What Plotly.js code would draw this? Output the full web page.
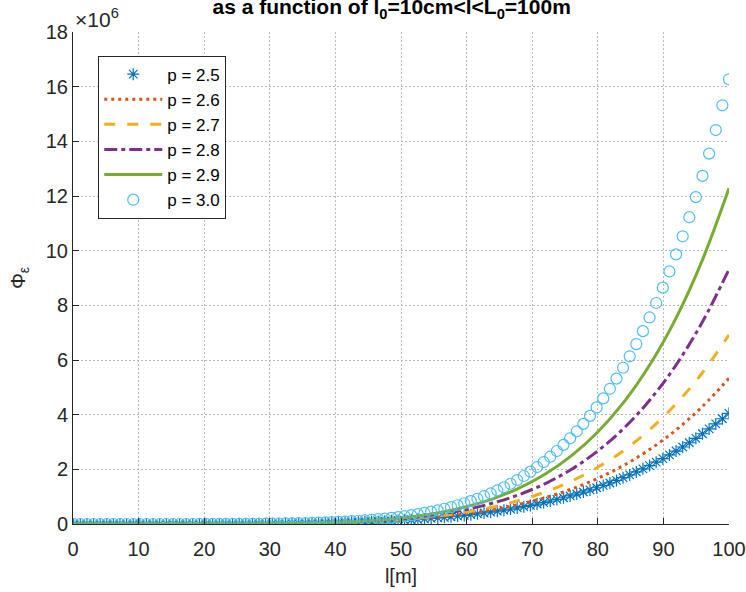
<!DOCTYPE html>
<html>
<head>
<meta charset="utf-8">
<script src="https://cdn.plot.ly/plotly-3.0.1.min.js"></script>
<style>html,body{margin:0;padding:0;background:#fff;}#chart{width:746px;height:592px;}</style>
</head>
<body>
<div id="chart"></div>
<script>
// x positions of sampled points (l in metres)
const xMarkers = [0.10,1.11,2.12,3.13,4.14,5.15,6.15,7.16,8.17,9.18,
 10.19,11.20,12.21,13.22,14.23,15.24,16.25,17.25,18.26,19.27,
 20.28,21.29,22.30,23.31,24.32,25.33,26.34,27.35,28.35,29.36,
 30.37,31.38,32.39,33.40,34.41,35.42,36.43,37.44,38.45,39.45,
 40.46,41.47,42.48,43.49,44.50,45.51,46.52,47.53,48.54,49.55,
 50.55,51.56,52.57,53.58,54.59,55.60,56.61,57.62,58.63,59.64,
 60.65,61.65,62.66,63.67,64.68,65.69,66.70,67.71,68.72,69.73,
 70.74,71.75,72.75,73.76,74.77,75.78,76.79,77.80,78.81,79.82,
 80.83,81.84,82.85,83.85,84.86,85.87,86.88,87.89,88.90,89.91,
 90.92,91.93,92.94,93.95,94.95,95.96,96.97,97.98,98.99,100.00];

// Phi_eps values in units of 10^6
const p25 = [0,0,0,0,0,0,0,0,0,0,
 0,0,0,0,0,0,0,0,0,0.0013,
 0.0017,0.0021,0.0026,0.0032,0.0040,0.0048,0.0058,0.0070,0.0083,0.0098,
 0.0116,0.0136,0.0159,0.0184,0.0213,0.0245,0.0281,0.0321,0.0365,0.0415,
 0.0469,0.0529,0.0595,0.0668,0.0747,0.0834,0.0929,0.1032,0.1144,0.1266,
 0.1397,0.1540,0.1694,0.1860,0.2038,0.2230,0.2437,0.2658,0.2895,0.3149,
 0.3421,0.3710,0.4019,0.4349,0.4699,0.5072,0.5468,0.5888,0.6334,0.6807,
 0.7307,0.7836,0.8396,0.8987,0.9611,1.0269,1.0962,1.1693,1.2462,1.3271,
 1.4121,1.5015,1.5953,1.6938,1.7970,1.9052,2.0186,2.1373,2.2615,2.3915,
 2.5273,2.6693,2.8175,2.9723,3.1338,3.3023,3.4779,3.6609,3.8515,4.05];

const p30 = [0,0,0,0,0,0,0,0,0,0,
 0,0,0,0,0,0,0,0,0,0.0010,
 0.0014,0.0018,0.0024,0.0031,0.0040,0.0050,0.0063,0.0078,0.0097,0.0119,
 0.0144,0.0175,0.0210,0.0251,0.0299,0.0354,0.0417,0.0490,0.0572,0.0666,
 0.0773,0.0893,0.1029,0.1181,0.1351,0.1541,0.1754,0.1990,0.2252,0.2542,
 0.2863,0.3217,0.3606,0.4034,0.4504,0.5018,0.5580,0.6194,0.6863,0.7591,
 0.8382,0.9241,1.0173,1.1181,1.2271,1.3448,1.4718,1.6086,1.7558,1.9141,
 2.0842,2.2666,2.4622,2.6716,2.8957,3.1352,3.3910,3.6640,3.9550,4.2651,
 4.5951,4.9462,5.3193,5.7156,6.1362,6.5823,7.0551,7.5559,8.0859,8.6465,
 9.2392,9.8654,10.5265,11.2242,11.9600,12.7355,13.5525,14.4127,15.3179,16.27];

const xLines = [0.1,10,20,25,30,34,38,40,44,48,52,56,60,64,68,72,76,80,84,88,92,96,100];
const p26 = [0,0,0.0012,0.0039,0.0102,0.0195,0.0348,0.0454,0.0746,0.1172,0.1779,0.2614,0.3743,0.5233,0.7169,0.9658,1.2792,1.6710,2.1523,2.7423,3.4544,4.3109,5.33];
const p27 = [0,0,0.0012,0.0039,0.0104,0.0204,0.0372,0.0491,0.0822,0.1314,0.2026,0.3023,0.4389,0.6216,0.8622,1.1736,1.5722,2.0739,2.6981,3.4704,4.4108,5.5519,6.92];
const p28 = [0,0,0.0011,0.0040,0.0110,0.0222,0.0413,0.0551,0.0939,0.1529,0.2394,0.3625,0.5338,0.7657,1.0746,1.4800,2.0038,2.6730,3.5099,4.5556,5.8427,7.4159,9.32];
const p29 = [0,0,0.0011,0.0040,0.0114,0.0235,0.0449,0.0604,0.1050,0.1739,0.2767,0.4253,0.6344,0.9221,1.3115,1.8273,2.5002,3.3672,4.4662,5.8514,7.5706,9.6926,12.28];

const seriesNames = ['p = 2.5','p = 2.6','p = 2.7','p = 2.8','p = 2.9','p = 3.0'];
const xTicks = [0,10,20,30,40,50,60,70,80,90,100];
const yTicks = [0,2,4,6,8,10,12,14,16,18];

const FONT = '"Liberation Sans Narrow", "Arial Narrow", "Liberation Sans", Arial, sans-serif';
const AX = '#262626';

const traces = [
  {x:xMarkers, y:p25, name:seriesNames[0], mode:'markers', type:'scatter',
   marker:{symbol:'asterisk-open', size:10, color:'#0072BD', line:{width:1.2, color:'#0072BD'}}},
  {x:xLines, y:p26, name:seriesNames[1], mode:'lines', type:'scatter',
   line:{color:'#D95319', width:3, dash:'3px,4px', shape:'spline'}},
  {x:xLines, y:p27, name:seriesNames[2], mode:'lines', type:'scatter',
   line:{color:'#EDB120', width:3, dash:'11px,12px', shape:'spline'}},
  {x:xLines, y:p28, name:seriesNames[3], mode:'lines', type:'scatter',
   line:{color:'#7E2F8E', width:3, dash:'13px,4px,4px,4px', shape:'spline'}},
  {x:xLines, y:p29, name:seriesNames[4], mode:'lines', type:'scatter',
   line:{color:'#77AC30', width:3, shape:'spline'}},
  {x:xMarkers, y:p30, name:seriesNames[5], mode:'markers', type:'scatter',
   marker:{symbol:'circle-open', size:11, color:'#4DBEEE', line:{width:1.2, color:'#4DBEEE'}}}
];

const layout = {
  width:746, height:592,
  margin:{l:73, r:17, t:32, b:68},
  paper_bgcolor:'#ffffff', plot_bgcolor:'#ffffff',
  font:{family:FONT, size:20, color:AX},
  showlegend:true,
  title:{text:'<b>as a function of l<sub>0</sub>=10cm&lt;l&lt;L<sub>0</sub>=100m</b>',
         font:{family:FONT, size:21, color:'#000'}, x:0.525, xanchor:'center',
         yref:'container', y:0.988, yanchor:'middle'},
  xaxis:{range:[0,100], tickvals:xTicks, ticks:'inside', ticklen:6, tickcolor:AX, tickwidth:1,
         showline:true, linecolor:AX, linewidth:1, zeroline:false, mirror:false,
         showgrid:true, gridcolor:'#b8b8b8', griddash:'2px,2px', gridwidth:1,
         tickfont:{family:FONT, size:20, color:AX}, automargin:false, ticklabelstandoff:7,
         title:{text:'l[m]', font:{family:FONT, size:20, color:AX}, standoff:9}},
  yaxis:{range:[0,18], tickvals:yTicks, ticks:'inside', ticklen:6, tickcolor:AX, tickwidth:1,
         showline:true, linecolor:AX, linewidth:1, zeroline:false, mirror:false,
         showgrid:true, gridcolor:'#b8b8b8', griddash:'2px,2px', gridwidth:1,
         tickfont:{family:FONT, size:20, color:AX}, automargin:false,
         title:{text:'Φ<sub>ε</sub>', font:{family:FONT, size:20, color:AX}, standoff:14}},
  legend:{x:0.0385, y:0.952, xanchor:'left', yanchor:'top', bgcolor:'#ffffff',
          bordercolor:AX, borderwidth:1, font:{family:FONT, size:17, color:'#000'},
          itemwidth:58, tracegroupgap:0},
  annotations:[{xref:'paper', yref:'paper', x:0, y:1, xanchor:'left', yanchor:'bottom',
                text:'×10<sup>6</sup>', showarrow:false, font:{family:FONT, size:21, color:AX}, xshift:0, yshift:-1}]
};

Plotly.newPlot('chart', traces, layout, {displayModeBar:false, staticPlot:true});
</script>
</body>
</html>
